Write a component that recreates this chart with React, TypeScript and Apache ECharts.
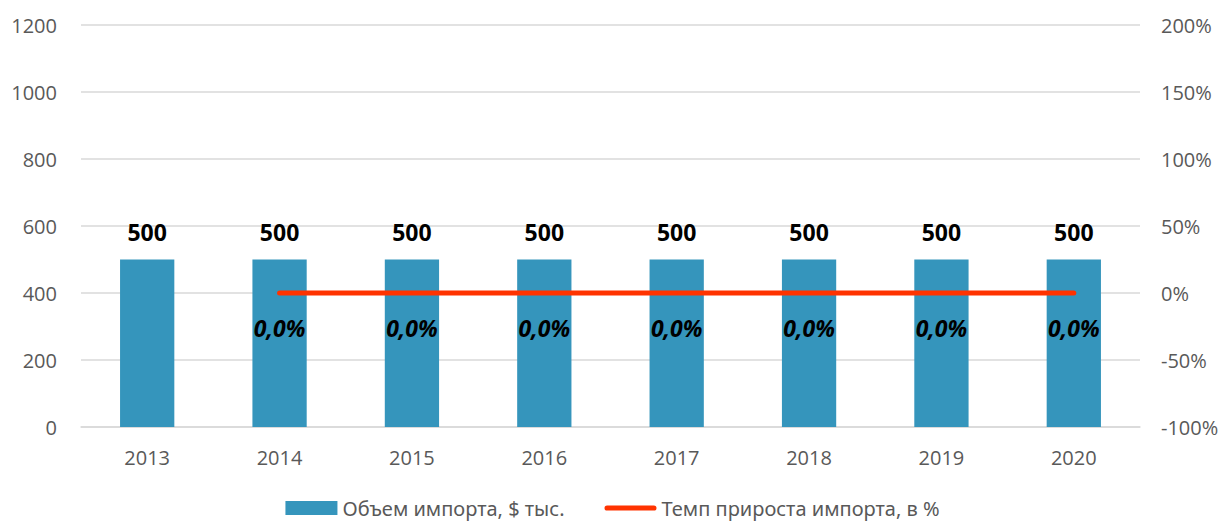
import React, { useEffect, useRef } from "react";
import * as echarts from "echarts";

const categories = ["2013", "2014", "2015", "2016", "2017", "2018", "2019", "2020"];
const importVolume = [500, 500, 500, 500, 500, 500, 500, 500];
const growthRate: (number | null)[] = [null, 0, 0, 0, 0, 0, 0, 0];
const seriesNames = ["Объем импорта, $ тыс.", "Темп прироста импорта, в %"];

const FONT = "'Open Sans', 'Noto Sans', sans-serif";

export default function App() {
  const ref = useRef<HTMLDivElement>(null);
  useEffect(() => {
    if (!ref.current) return;
    const chart = echarts.init(ref.current, undefined, { renderer: "svg" });
    chart.setOption({
      animation: false,
      textStyle: { fontFamily: FONT },
      grid: { left: 81, right: 85, top: 25, bottom: 96 },
      legend: {
        bottom: 0,
        left: "center",
        itemGap: 40,
        itemWidth: 52,
        itemHeight: 14,
        textStyle: { fontSize: 20, color: "#595959", fontFamily: "'Noto Sans', sans-serif" },
        data: [
          { name: seriesNames[0], icon: "rect" },
          {
            name: seriesNames[1],
            icon: "path://M3,0 L57,0 A3,3 0 0 1 57,6 L3,6 A3,3 0 0 1 3,0 Z",
            itemStyle: { color: "#FF3300", opacity: 1 },
          },
        ],
      },
      xAxis: {
        type: "category",
        data: categories,
        axisTick: { show: false },
        axisLine: { lineStyle: { color: "#d9d9d9", width: 1.5 } },
        axisLabel: { color: "#595959", fontSize: 20, margin: 20 },
      },
      yAxis: [
        {
          type: "value",
          min: 0,
          max: 1200,
          interval: 200,
          axisLine: { show: false },
          axisTick: { show: false },
          splitLine: { lineStyle: { color: "#d9d9d9", width: 1.5 } },
          axisLabel: { color: "#595959", fontSize: 20, margin: 24, formatter: (v: number) => String(v) },
        },
        {
          type: "value",
          min: -100,
          max: 200,
          interval: 50,
          axisLine: { show: false },
          axisTick: { show: false },
          splitLine: { show: false },
          axisLabel: { color: "#595959", fontSize: 20, margin: 21, formatter: (v: number) => v + "%" },
        },
      ],
      series: [
        {
          name: seriesNames[0],
          type: "bar",
          data: importVolume,
          barWidth: "41%",
          itemStyle: { color: "#3595BC" },
          label: {
            show: true,
            position: "top",
            distance: 16,
            color: "#000",
            fontSize: 23,
            fontWeight: "bold",
          },
        },
        {
          name: seriesNames[1],
          type: "line",
          yAxisIndex: 1,
          data: growthRate,
          symbol: "circle",
          symbolSize: 2,
          showSymbol: true,
          lineStyle: { color: "#FF3300", width: 5, cap: "round" },
          itemStyle: { color: "#FF3300" },
          label: {
            show: true,
            position: "bottom",
            distance: 22,
            color: "#000",
            fontSize: 23,
            fontWeight: "bold",
            fontStyle: "italic",
            formatter: (p: any) => (p.value == null ? "" : Number(p.value).toFixed(1).replace(".", ",") + "%"),
          },
        },
      ],
    });
    return () => chart.dispose();
  }, []);
  return <div ref={ref} style={{ width: 1225, height: 523, position: "absolute", left: 0, top: 0 }} />;
}
